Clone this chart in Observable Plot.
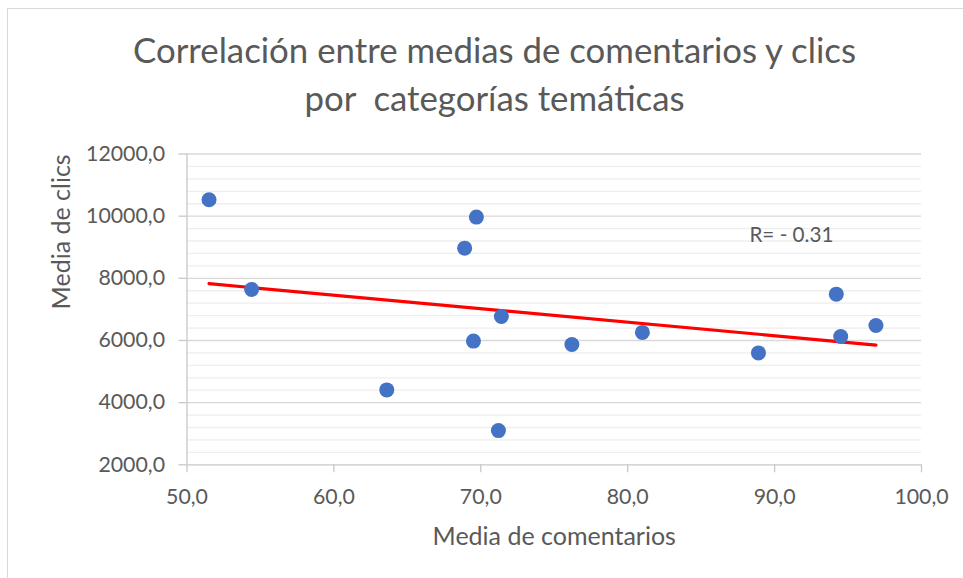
<!DOCTYPE html>
<html>
<head>
<meta charset="utf-8">
<script src="https://cdn.jsdelivr.net/npm/d3@7"></script>
<script src="https://cdn.jsdelivr.net/npm/@observablehq/plot@0.6"></script>
<style>
  html, body { margin: 0; padding: 0; background: #fff; }
  #wrap { position: relative; width: 963px; height: 578px; overflow: hidden; font-family: Lato, sans-serif; background: #fff; }
  #frame { position: absolute; left: 7px; top: 8px; width: 1200px; height: 1200px; border-left: 1px solid #d9d9d9; border-top: 1px solid #d9d9d9; box-sizing: border-box; pointer-events: none; }
  #title { position: absolute; left: 0; top: 26px; width: 989px; text-align: center; color: #595959; font-size: 34.8px; line-height: 48px; white-space: pre; }
  #chart { position: absolute; left: 0; top: 0; }
</style>
</head>
<body>
<div id="wrap">
  <div id="chart"></div>
  <div id="frame"></div>
  <div id="title"></div>
</div>
<script>
// Data
const comentarios = [51.5, 54.4, 63.6, 68.9, 69.7, 69.5, 71.4, 71.2, 76.2, 81.0, 88.9, 94.2, 94.5, 96.9];
const clics       = [10530, 7640, 4410, 8970, 9970, 5980, 6770, 3100, 5870, 6260, 5600, 7490, 6130, 6480];

const xTicks = [50, 60, 70, 80, 90, 100];
const yTicks = [2000, 4000, 6000, 8000, 10000, 12000];
const yMinor = d3.range(2000, 12001, 400).filter(v => !yTicks.includes(v));

const titleLines = ["Correlación entre medias de comentarios y clics", "por  categorías temáticas"];
const xLabel = "Media de comentarios";
const yLabel = "Media de clics";

const data = comentarios.map((c, i) => ({comentarios: c, clics: clics[i]}));

// Pearson correlation computed from the data
const mx = d3.mean(comentarios), my = d3.mean(clics);
let sxy = 0, sxx = 0, syy = 0;
data.forEach(d => { const dx = d.comentarios - mx, dy = d.clics - my; sxy += dx*dy; sxx += dx*dx; syy += dy*dy; });
const r = sxy / Math.sqrt(sxx * syy);
const rText = "R= " + (r < 0 ? "- " : "") + Math.abs(r).toFixed(2);

const fmt = d => d.toFixed(1).replace(".", ",");
const textColor = "#595959";
const axisColor = "#c8c8c8";

const chart = Plot.plot({
  width: 963,
  height: 578,
  marginLeft: 186.5,
  marginRight: 42,
  marginTop: 153.5,
  marginBottom: 113.7,
  style: {fontFamily: "Lato, sans-serif", color: textColor, background: "transparent"},
  x: {domain: [50, 100]},
  y: {domain: [2000, 12000]},
  marks: [
    Plot.ruleY(yMinor, {stroke: "#eeeeee", strokeWidth: 1.3}),
    Plot.ruleY(yTicks.slice(1), {stroke: "#d9d9d9", strokeWidth: 1.3}),
    Plot.ruleY([yTicks[0]], {stroke: axisColor, strokeWidth: 1.3}),
    Plot.ruleX([xTicks[0]], {stroke: axisColor, strokeWidth: 1.3}),
    Plot.axisY({ticks: yTicks, tickFormat: fmt, tickSize: 8, tickPadding: 14, stroke: axisColor, strokeWidth: 1.3, fill: textColor, fontSize: 21.3, label: null}),
    Plot.axisX({ticks: xTicks, tickFormat: fmt, tickSize: 8, tickPadding: 16.5, stroke: axisColor, strokeWidth: 1.3, fill: textColor, fontSize: 21.3, label: null}),
    Plot.text([xLabel], {frameAnchor: "bottom", lineAnchor: "top", dy: 62.5, fontSize: 25, fill: textColor}),
    Plot.text([yLabel], {frameAnchor: "left", rotate: -90, dx: -124.8, fontSize: 25, fill: textColor}),
    Plot.linearRegressionY(data, {x: "comentarios", y: "clics", stroke: "#ff0000", strokeWidth: 3.2, ci: 0}),
    Plot.dot(data, {x: "comentarios", y: "clics", r: 7.5, fill: "#4472c4", stroke: "none"}),
    Plot.text([rText], {frameAnchor: "top-right", textAnchor: "end", lineAnchor: "top", dx: -88, dy: 73, fontSize: 20.7, fill: textColor})
  ]
});

document.getElementById("chart").appendChild(chart);
document.getElementById("title").textContent = titleLines.join("\n");
</script>
</body>
</html>
